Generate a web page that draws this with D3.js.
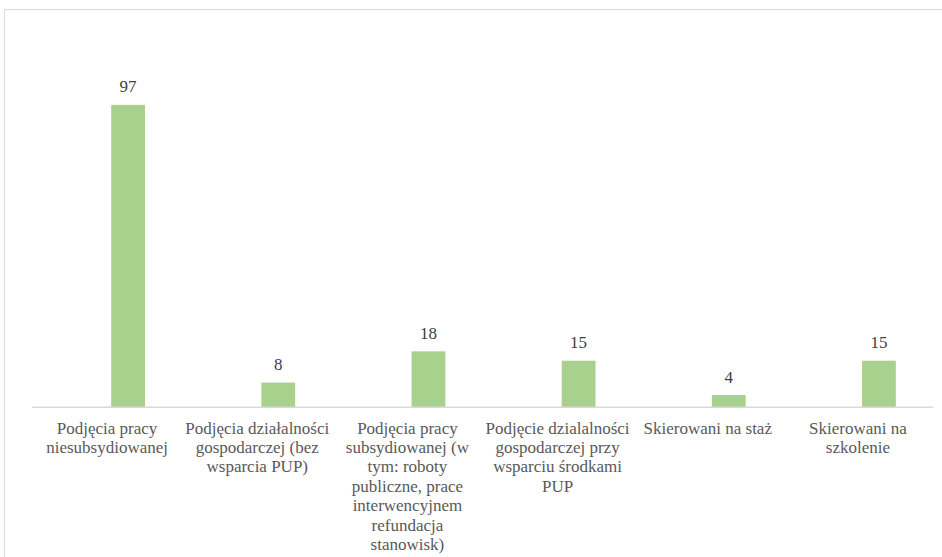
<!DOCTYPE html>
<html>
<head>
<meta charset="utf-8">
<script src="https://cdn.jsdelivr.net/npm/d3@7"></script>
<style>
  html, body { margin: 0; padding: 0; background: #ffffff; font-family: 'Liberation Serif'; }
  #chart { position: relative; width: 942px; height: 557px; overflow: hidden; }
  svg { display: block; position: absolute; left: 0; top: 0; }
  .lbl {
    position: absolute;
    font-size: 17px;
    line-height: 19.4px;
    white-space: nowrap;
    text-align: center;
    transform: translateX(-50%);
  }
</style>
</head>
<body>
<div id="chart"></div>
<script>
// Category labels, already broken into lines as in the reference
const categories = [
  ["Podjęcia pracy", "niesubsydiowanej"],
  ["Podjęcia działalności", "gospodarczej (bez", "wsparcia PUP)"],
  ["Podjęcia pracy", "subsydiowanej (w", "tym: roboty", "publiczne, prace", "interwencyjnem", "refundacja", "stanowisk)"],
  ["Podjęcie dzialalności", "gospodarczej przy", "wsparciu środkami", "PUP"],
  ["Skierowani na staż"],
  ["Skierowani na", "szkolenie"]
];
const values = [97, 8, 18, 15, 4, 15];

const W = 942, H = 557;
const margin = { left: 32, right: 9, baseline: 407.5 };
const BASE_OFF = 15.45; // distance from top of a line box to its text baseline

const chart = d3.select("#chart");
const svg = chart.append("svg")
  .attr("width", W)
  .attr("height", H);

// chart area border (right / bottom run off the picture)
svg.append("rect")
  .attr("x", 4.5)
  .attr("y", 9.5)
  .attr("width", 1000)
  .attr("height", 1000)
  .attr("fill", "none")
  .attr("stroke", "#d9d9d9")
  .attr("stroke-width", 1);

const keys = categories.map((d, i) => i);

const x = d3.scaleBand()
  .domain(keys)
  .range([margin.left, W - margin.right])
  .padding(0);

const y = d3.scaleLinear()
  .domain([0, 100])
  .range([margin.baseline, margin.baseline - 312]);

const bw = x.bandwidth();
const barW = bw * 0.225;
const barShift = bw * 0.14; // bars sit a little right of the band centre

svg.append("g")
  .selectAll("rect")
  .data(values)
  .join("rect")
  .attr("x", (d, i) => x(i) + bw / 2 + barShift - barW / 2)
  .attr("y", (d) => y(d))
  .attr("width", barW)
  .attr("height", (d) => y(0) - y(d))
  .attr("fill", "#a9d18e");

// category axis line
svg.append("line")
  .attr("x1", margin.left)
  .attr("x2", W - margin.right)
  .attr("y1", 407.2)
  .attr("y2", 407.2)
  .attr("stroke", "#d9d9d9")
  .attr("stroke-width", 1.5);

// value labels (html so the serif face is used)
chart.selectAll("div.val")
  .data(values)
  .join("div")
  .attr("class", "lbl val")
  .attr("style", (d, i) =>
    `font-family:'Liberation Serif';left:${x(i) + bw / 2 + barShift}px;top:${y(d) - 12 - BASE_OFF}px;color:#404040`)
  .text((d) => d);

// category labels
chart.selectAll("div.cat")
  .data(categories)
  .join("div")
  .attr("class", "lbl cat")
  .attr("style", (d, i) =>
    `font-family:'Liberation Serif';left:${x(i) + bw / 2}px;top:${434 - BASE_OFF}px;color:#595959`)
  .html((d) => d.join("<br>"));
</script>
</body>
</html>
